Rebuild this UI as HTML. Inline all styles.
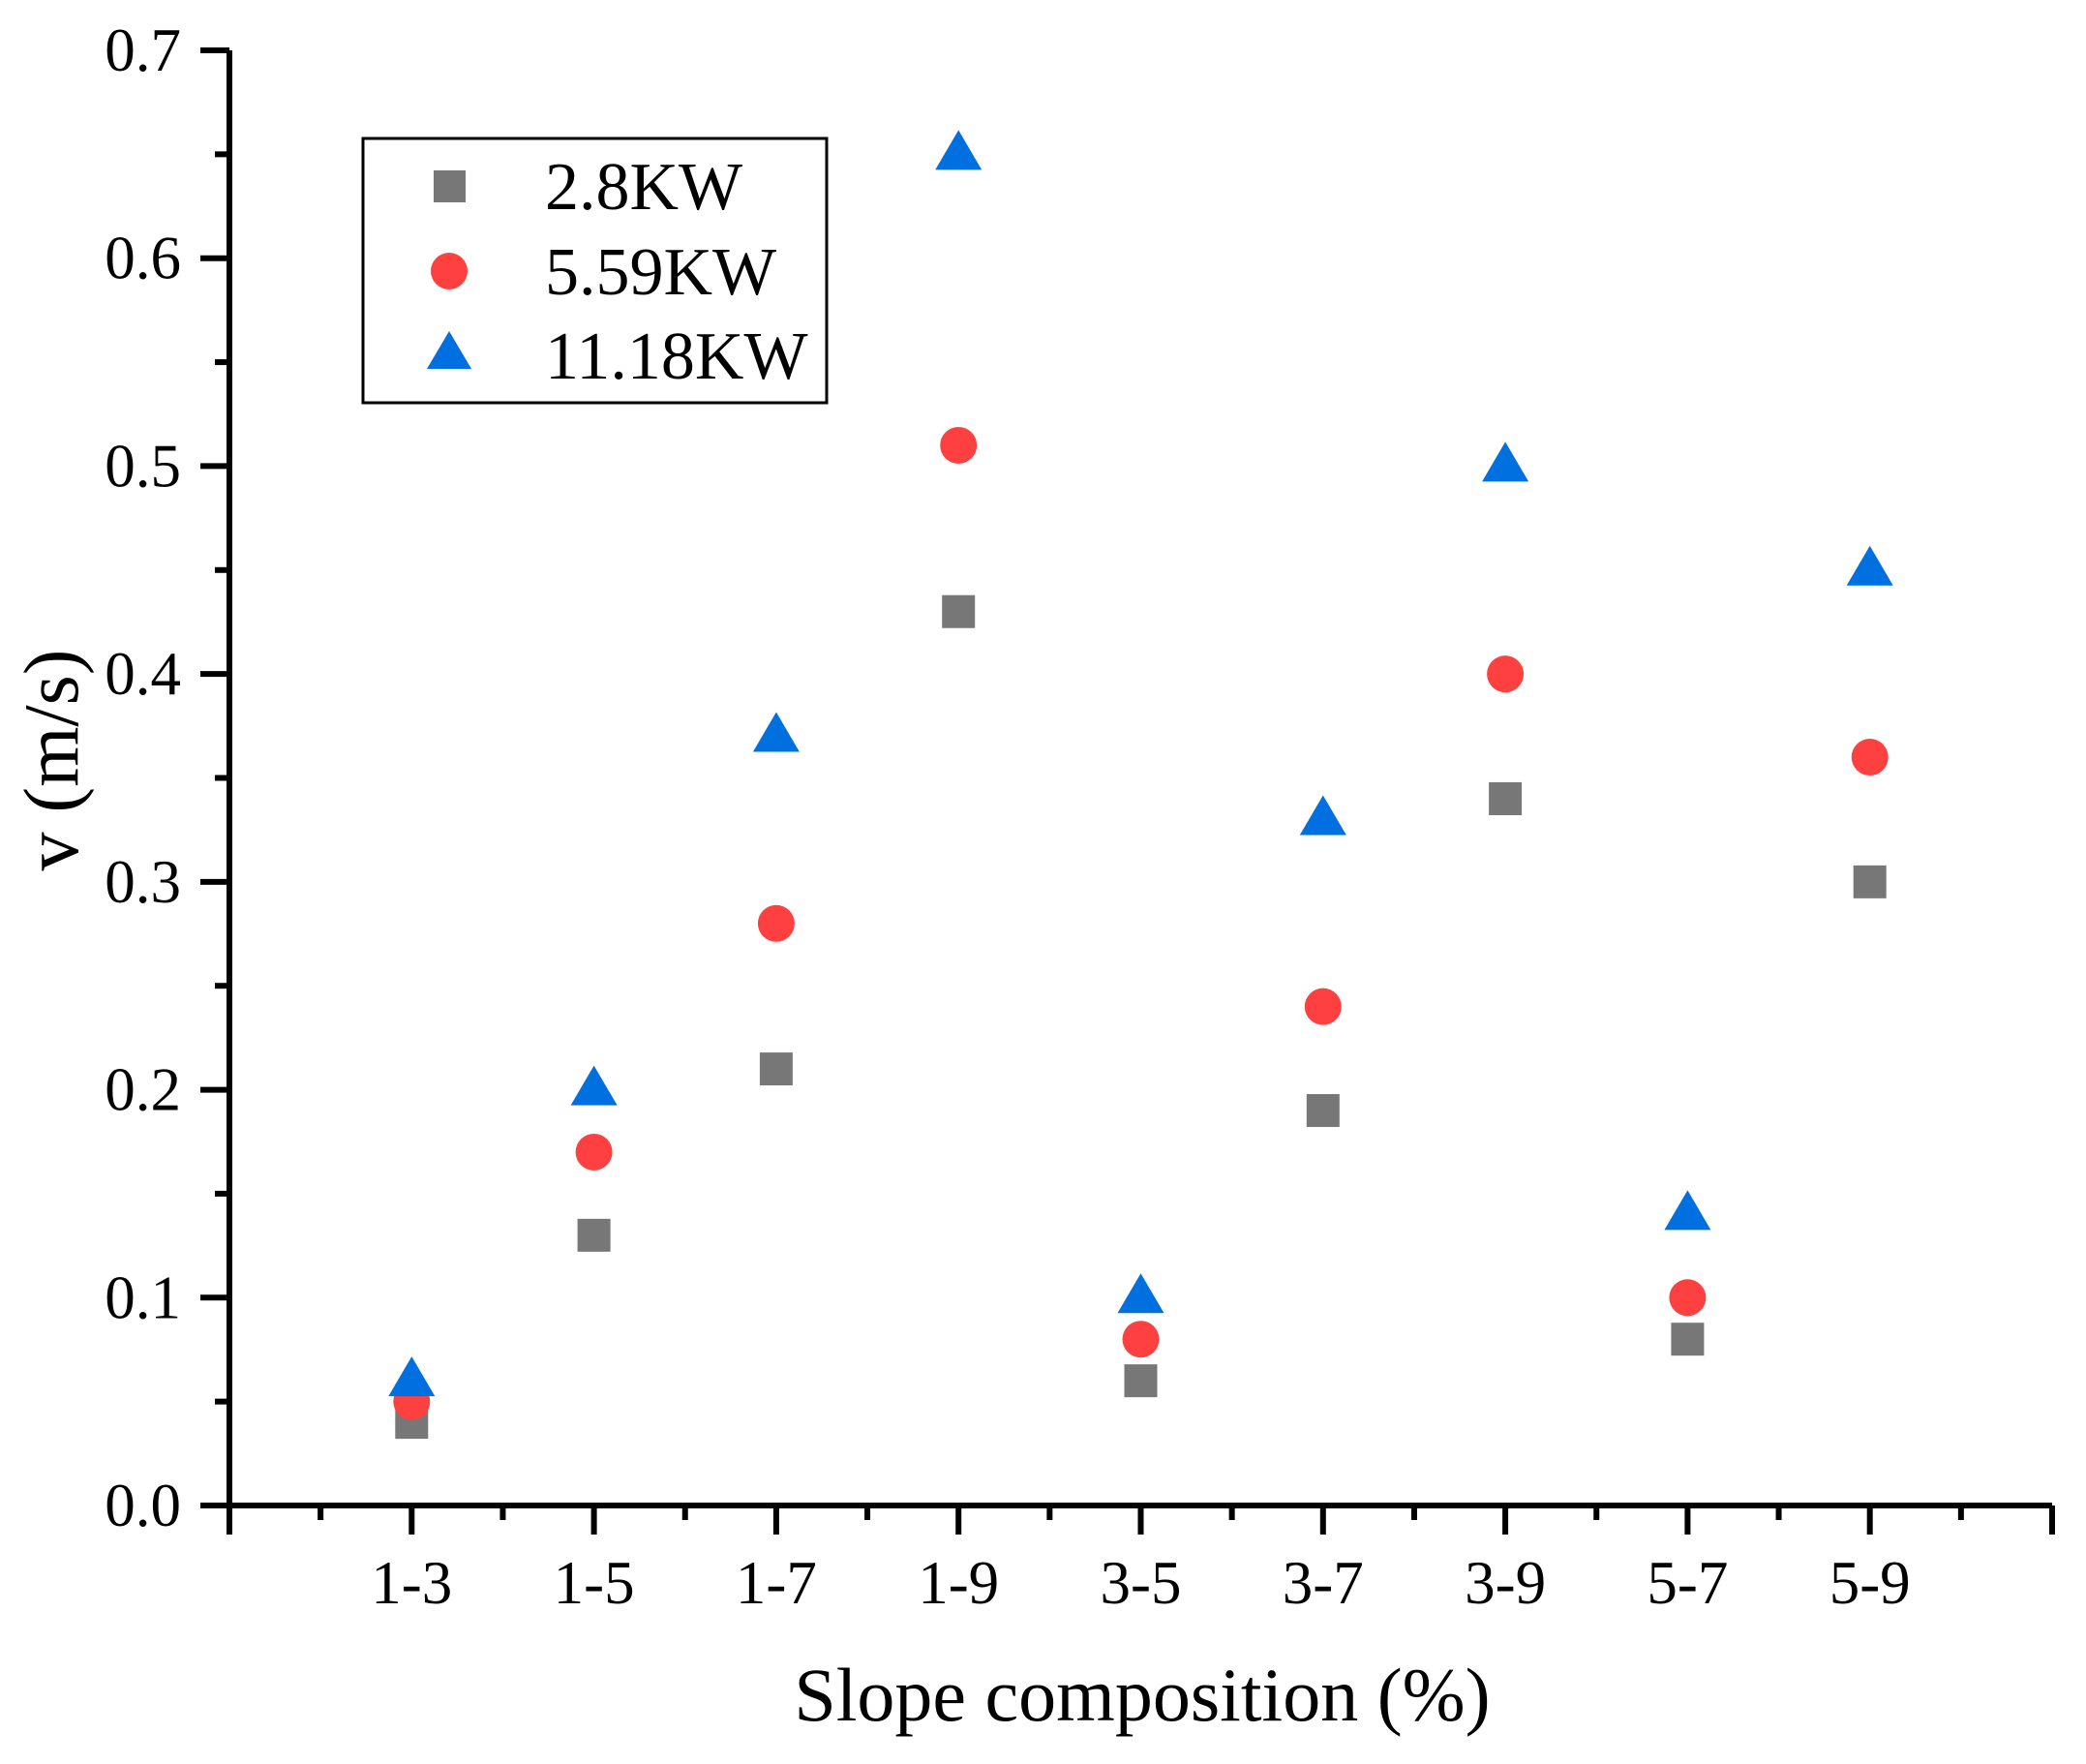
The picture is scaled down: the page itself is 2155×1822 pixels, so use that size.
<!DOCTYPE html>
<html><head><meta charset="utf-8"><style>
html,body{margin:0;padding:0;background:#fff;}
svg text{font-family:"Liberation Serif",serif;fill:#000;}
</style></head><body>
<svg id="chart" width="2155" height="1817" viewBox="0 0 2155 1817" xmlns="http://www.w3.org/2000/svg">
<g id="axes"></g>
<g id="marks"></g>
<g id="legend">
<rect x="375" y="143" width="479" height="273" fill="#fff" stroke="#000" stroke-width="3"/>
<rect x="448" y="176" width="33" height="33" fill="#777"/>
<text x="563" y="216" font-size="70">2.8KW</text>
<circle cx="464" cy="280" r="19" fill="#ff4040"/>
<text x="563" y="304" font-size="70">5.59KW</text>
<polygon points="464,342 441,381 487,381" fill="#0070e0"/>
<text x="563" y="391" font-size="70">11.18KW</text>
</g>
<text x="1180" y="1777" font-size="78" text-anchor="middle">Slope composition (%)</text>
<text transform="translate(80,785) rotate(-90)" font-size="80" text-anchor="middle">v (m/s)</text>
</svg>
<script>
const categories = ["1-3","1-5","1-7","1-9","3-5","3-7","3-9","5-7","5-9"];
const series28 = [0.04,0.13,0.21,0.43,0.06,0.19,0.34,0.08,0.30];
const series559 = [0.05,0.17,0.28,0.51,0.08,0.24,0.40,0.10,0.36];
const series1118 = [0.06,0.20,0.37,0.65,0.10,0.33,0.50,0.14,0.45];
const yTicks = ["0.0","0.1","0.2","0.3","0.4","0.5","0.6","0.7"];

const NS="http://www.w3.org/2000/svg";
const X0=237, X1=2120, Y0=1555, Y1=52;
function xs(i){return X0+(i)*(X1-X0)/10;}
function ys(v){return Y0-(v/0.7)*(Y0-Y1);}
function mk(tag,attrs,parent){const e=document.createElementNS(NS,tag);for(const k in attrs)e.setAttribute(k,attrs[k]);parent.appendChild(e);return e;}
const axes=document.getElementById('axes'), marks=document.getElementById('marks');
let l=mk('line',{x1:X0,y1:Y1,x2:X0,y2:Y0+3,stroke:'#000','stroke-width':6},axes);


l=mk('line',{x1:X0-3,y1:Y0,x2:X1,y2:Y0,stroke:'#000','stroke-width':6},axes);


for(let k=0;k<=14;k++){
  const v=k*0.05, y=ys(v), major=k%2===0;
  const t=mk('line',{x1:X0-(major?30:15),y1:y,x2:X0,y2:y,stroke:'#000','stroke-width':6},axes);
  
  
  if(major){
    const tx=mk('text',{x:187,y:y+21,'font-size':63,'text-anchor':'end'},axes);
    tx.textContent=yTicks[k/2];
    
    
  }
}
for(let k=0;k<=20;k++){
  const x=xs(k/2), major=k%2===0;
  const t=mk('line',{x1:x,y1:Y0,x2:x,y2:Y0+(major?30:15),stroke:'#000','stroke-width':6},axes);
  
  
}
categories.forEach((c,i)=>{
  const tx=mk('text',{x:xs(i+1),y:1656,'font-size':63,'text-anchor':'middle'},axes);
  tx.textContent=c;
  
  
});
series28.forEach((v,i)=>{
  const e=mk('rect',{x:xs(i+1)-17,y:ys(v)-17,width:34,height:34,fill:'#777'},marks);
  
  
});
series559.forEach((v,i)=>{
  const e=mk('circle',{cx:xs(i+1),cy:ys(v),r:19,fill:'#ff4040'},marks);
  
  
});
series1118.forEach((v,i)=>{
  const x=xs(i+1), y=ys(v);
  const e=mk('polygon',{points:`${x},${y-25} ${x-24},${y+16} ${x+24},${y+16}`,fill:'#0070e0'},marks);
  
  
});
</script>
</body></html>
